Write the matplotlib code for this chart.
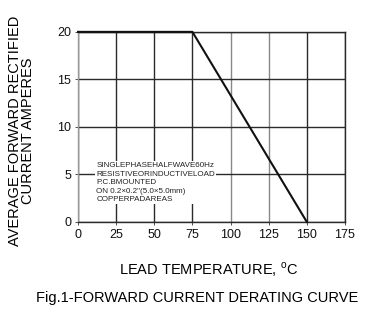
import matplotlib
matplotlib.use("Agg")
from matplotlib import pyplot as plt

plt.rcParams['font.family'] = ['Liberation Sans', 'DejaVu Sans']

# derating curve: lead temperature (C) vs average forward current (A)
temp = [0, 75, 150]
current = [20, 20, 0]

x_ticks = [0, 25, 50, 75, 100, 125, 150, 175]
y_ticks = [0, 5, 10, 15, 20]

note_lines = [
    "SINGLEPHASEHALFWAVE60Hz",
    "RESISTIVEORINDUCTIVELOAD",
    "P.C.BMOUNTED",
    "ON 0.2\u00d70.2\"(5.0\u00d75.0mm)",
    "COPPERPADAREAS",
]

fig = plt.figure(figsize=(3.79, 3.22), dpi=100)
ax = fig.add_axes([0.206, 0.311, 0.704, 0.590])

ax.set_xlim(0, 175)
ax.set_ylim(0, 20)
ax.set_xticks(x_ticks)
ax.set_yticks(y_ticks)
ax.tick_params(axis='both', labelsize=9, length=2, width=0.6, color='#333333',
               labelcolor='#111111', pad=3)

ax.grid(True, color='#2a2a2a', linewidth=1.0)
for t in ax.get_xgridlines()[4:6]:
    t.set_color('#888888')
for s in ax.spines.values():
    s.set_color('#2a2a2a')
    s.set_linewidth(1.0)
ax.spines['left'].set_color('#999999')

ax.plot(temp, current, color='#111111', linewidth=1.5, zorder=3, clip_on=False)

ax.text(12, 6.3, "\n".join(note_lines), fontsize=5.8, color='#222222',
        linespacing=1.3, va='top', ha='left', zorder=4,
        bbox=dict(facecolor='white', edgecolor='none', pad=1.0))

fig.text(0.55, 0.162, "LEAD TEMPERATURE, $^{\\mathregular{o}}$C", ha='center',
         va='center', fontsize=10.5)
fig.text(0.02, 0.595, "AVERAGE FORWARD RECTIFIED\nCURRENT AMPERES", rotation=90,
         ha='left', va='center', fontsize=10.5, linespacing=0.95, multialignment='center')
fig.text(0.52, 0.075, "Fig.1-FORWARD CURRENT DERATING CURVE", ha='center',
         va='center', fontsize=10.5)

plt.savefig("out.png", dpi=100)
